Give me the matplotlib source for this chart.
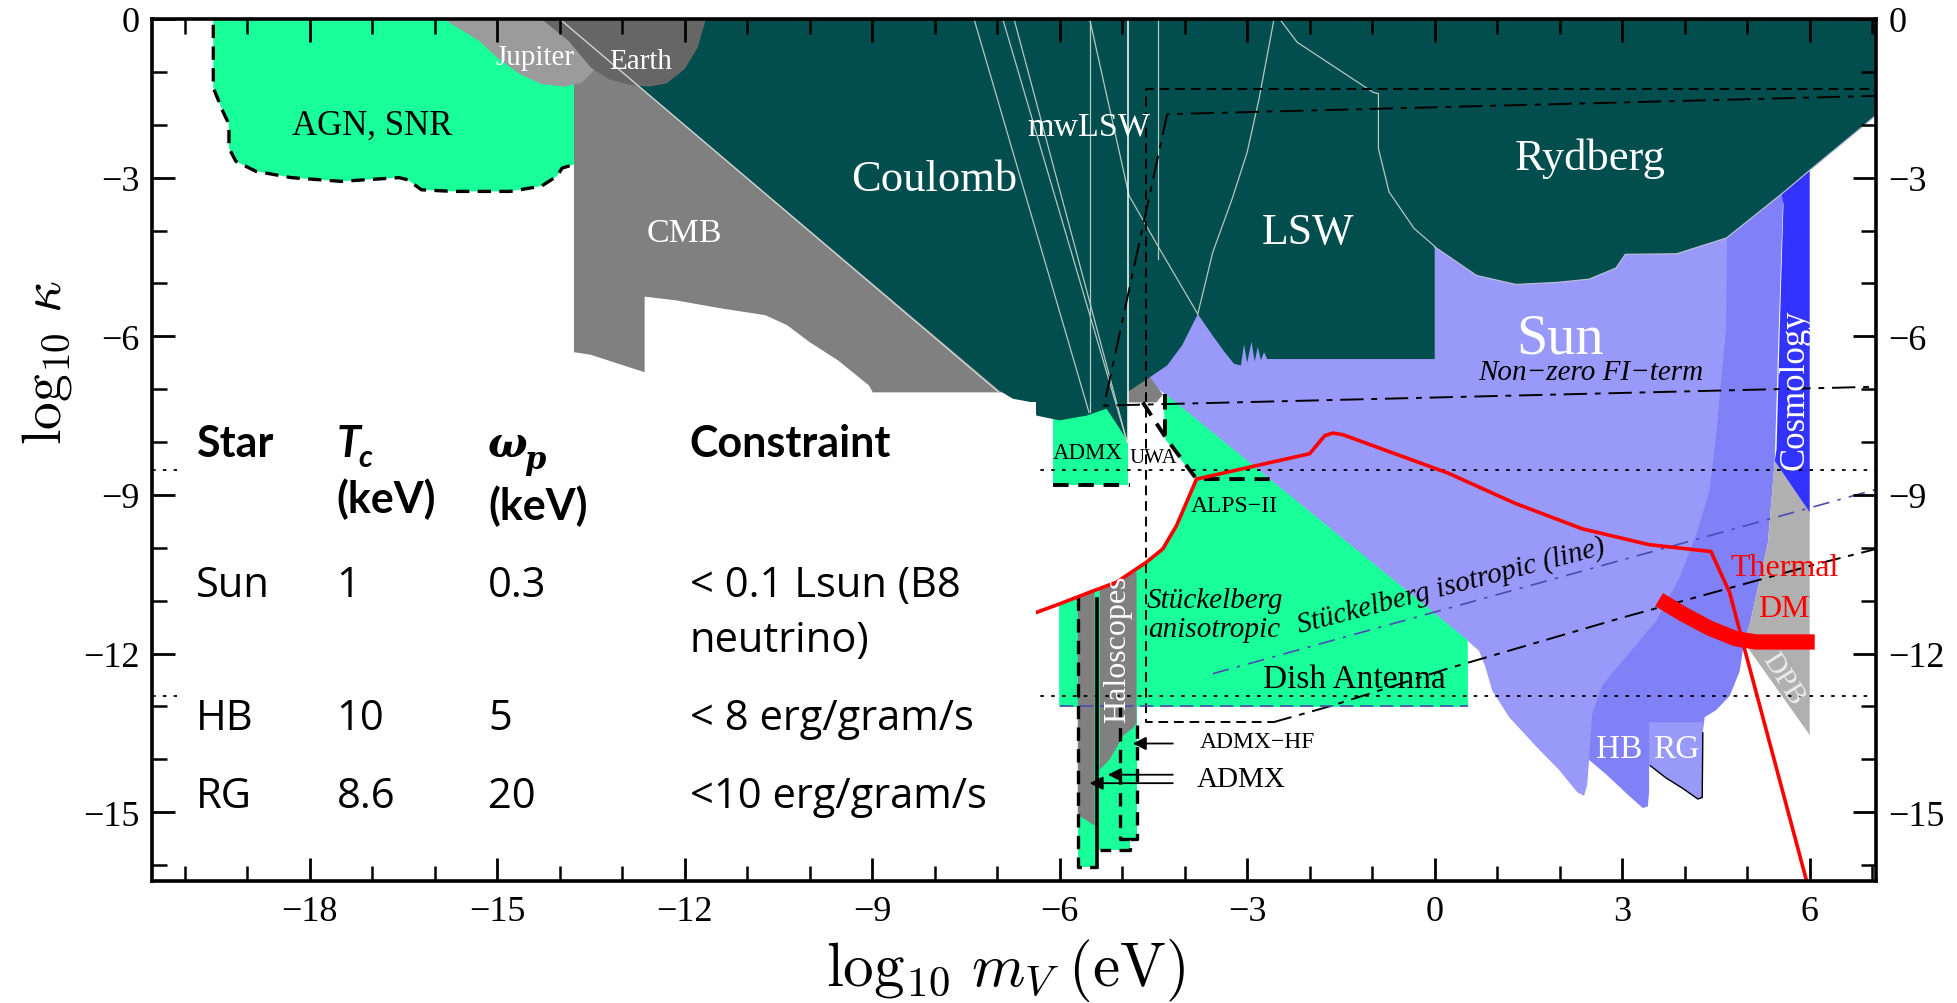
import matplotlib
matplotlib.use("Agg")
import matplotlib.pyplot as plt
from matplotlib.patches import Polygon, Rectangle

plt.rcParams['font.family'] = ['Liberation Serif', 'DejaVu Serif']
plt.rcParams['mathtext.fontset'] = 'cm'
plt.rcParams['axes.unicode_minus'] = True

# ---------------------------------------------------------------------------
# Excluded regions: vertices (log10 m_V [eV], log10 kappa)
# ---------------------------------------------------------------------------
agn_snr = [(-19.54, 0.3), (-19.54, -1.3), (-19.39, -1.74), (-19.29, -1.99), (-19.29, -2.44),
           (-19.18, -2.69), (-18.86, -2.88), (-18.29, -3.0), (-17.5, -3.07), (-16.57, -3.0),
           (-16.43, -3.04), (-16.21, -3.23), (-15.71, -3.26), (-14.79, -3.26), (-14.29, -3.16),
           (-14.04, -2.97), (-13.96, -2.82), (-13.77, -2.75), (-13.77, 0.3)]

cmb = [(-13.77, -0.3), (-13.77, -6.3), (-13.5, -6.35), (-12.64, -6.68), (-12.64, -5.25),
       (-12.14, -5.32), (-11.43, -5.47), (-10.71, -5.6), (-10.36, -5.79), (-10.0, -6.11),
       (-9.54, -6.46), (-9.05, -6.93), (-8.99, -7.06), (-6.9, -7.06), (-12.5, -0.3)]

jupiter = [(-15.86, 0.2), (-15.86, 0.0), (-15.29, -0.41), (-15.0, -0.73), (-14.64, -1.04),
           (-14.29, -1.23), (-13.93, -1.28), (-13.64, -1.2), (-13.43, -0.95), (-13.3, 0.2)]

earth = [(-14.29, 0.2), (-14.29, 0.0), (-13.86, -0.41), (-13.5, -0.92), (-13.21, -1.14),
         (-12.86, -1.25), (-12.57, -1.28), (-12.29, -1.22), (-12.0, -0.95), (-11.79, -0.54),
         (-11.66, 0.0), (-11.66, 0.2)]

# Coulomb / mwLSW / LSW / Rydberg (one shaded envelope)
lab_bounds = [(-14.2, 0.2), (7.5, 0.2), (7.5, -1.38), (6.8, -2.08), (6.0, -2.86), (5.6, -3.26),
              (4.67, -4.14), (3.87, -4.44), (3.05, -4.45), (2.9, -4.71), (2.47, -4.92),
              (1.97, -4.98), (1.3, -5.02), (0.67, -4.85), (0.2, -4.47), (0.0, -4.31),
              (0.0, -6.43), (-2.57, -6.43), (-2.68, -6.43), (-2.73, -6.3), (-2.78, -6.45),
              (-2.83, -6.2), (-2.88, -6.48), (-2.93, -6.1), (-3.0, -6.5), (-3.05, -6.15),
              (-3.1, -6.55), (-3.21, -6.52), (-3.36, -6.3), (-3.55, -5.99), (-3.79, -5.58),
              (-4.04, -6.17), (-4.28, -6.55), (-4.59, -6.8), (-4.91, -7.05), (-4.91, -7.98),
              (-5.25, -7.37), (-5.57, -7.5), (-6.0, -7.59), (-6.37, -7.5), (-6.43, -7.25),
              (-6.75, -7.18), (-6.96, -7.03)]

sun = [(-4.6, -6.82), (0.52, -11.75), (0.71, -11.95), (0.81, -12.25), (0.92, -12.7),
       (1.19, -13.2), (1.61, -13.74), (1.99, -14.2), (2.28, -14.62), (2.39, -14.69),
       (2.44, -14.48), (2.47, -14.01), (2.6, -13.6), (3.6, -12.0), (4.5, -10.0),
       (5.0, -7.0), (5.0, -3.5), (-3.8, -3.5), (-4.6, -6.5)]

hb = [(2.47, -14.01), (2.74, -14.28), (3.11, -14.69), (3.33, -14.92), (3.41, -14.89),
      (3.43, -14.62), (3.43, -14.11), (3.7, -14.35), (3.97, -14.55), (4.21, -14.75),
      (4.28, -14.72), (4.29, -13.47), (4.32, -13.2), (4.5, -13.07), (4.72, -12.8),
      (4.88, -12.33), (4.95, -11.79), (5.04, -11.45), (5.14, -10.92), (5.33, -9.91),
      (5.44, -8.36), (5.5, -6.0), (5.58, -3.2), (4.68, -4.0), (4.66, -5.87), (4.5, -7.89),
      (4.4, -8.9), (4.18, -9.77), (3.91, -10.58), (3.54, -11.39), (3.06, -12.06),
      (2.68, -12.6), (2.52, -13.14)]

rg = [(3.43, -13.3), (4.29, -13.3), (4.29, -14.72), (4.21, -14.75), (3.97, -14.55),
      (3.7, -14.35), (3.43, -14.11)]
rg_edge = [(3.45, -14.12), (3.7, -14.35), (3.97, -14.55), (4.21, -14.75), (4.28, -14.72),
           (4.29, -13.5)]

dpb = [(5.44, -8.36), (6.0, -9.33), (6.0, -13.54), (4.95, -11.79), (5.04, -11.45),
       (5.14, -10.92), (5.33, -9.91)]

cosmology = [(5.5, -3.0), (6.0, -2.5), (6.0, -9.33), (5.44, -8.36), (5.47, -8.13),
             (5.52, -5.87), (5.58, -3.5)]

admx_top = [(-6.11, -7.3), (-4.91, -7.3), (-4.91, -8.82), (-6.11, -8.82)]

stueck_aniso = [(-4.33, -7.08), (0.52, -11.75), (0.53, -13.0), (-6.0, -13.0), (-6.0, -11.06),
                (-5.52, -10.84), (-5.09, -10.65), (-4.61, -10.27), (-4.35, -10.02),
                (-4.13, -9.58), (-3.97, -9.14), (-3.81, -8.7), (-4.3, -7.95), (-4.33, -7.2)]

haloscope_green = [(-5.71, -12.9), (-5.71, -16.03), (-5.41, -16.03), (-5.41, -15.72),
                   (-4.88, -15.72), (-4.88, -15.5), (-4.77, -15.5), (-4.77, -12.9)]
haloscope_gray1 = [(-5.71, -10.93), (-5.44, -10.8), (-5.44, -15.25), (-5.71, -15.05)]
haloscope_gray2 = [(-5.36, -10.78), (-4.77, -10.45), (-4.77, -13.3), (-4.82, -13.4),
                   (-4.98, -13.55), (-5.1, -13.8), (-5.2, -14.0), (-5.36, -14.2)]

gray_wedge = [(-4.91, -6.95), (-4.6, -6.7), (-4.35, -7.1), (-4.45, -7.25), (-4.91, -7.25)]

# ---------------------------------------------------------------------------
# Curves
# ---------------------------------------------------------------------------
coulomb_edge = [(-14.0, 0.0), (-6.97, -7.06)]
thin_lines = [
    [(-7.37, 0.0), (-5.53, -7.44)],
    [(-6.91, 0.0), (-4.92, -8.0)],
    [(-6.73, 0.0), (-4.92, -8.0)],
    [(-5.52, 0.0), (-5.52, -7.44)],
    [(-4.42, 0.0), (-4.42, -4.54)],
    [(-5.52, 0.0), (-4.89, -3.34), (-4.4, -4.35), (-3.79, -5.58)],
    [(-2.57, 0.0), (-2.81, -1.51), (-3.0, -2.52), (-3.24, -3.4), (-3.55, -4.41), (-3.79, -5.58)],
    [(-2.48, 0.0), (-2.2, -0.44), (-0.98, -1.39), (-0.9, -1.41), (-0.9, -2.45), (-0.73, -3.27),
     (-0.33, -3.96), (0.01, -4.31)],
]
white_line = [(-4.9, 0.0), (-4.9, -8.0)]
rydberg_edge = [(0.0, -4.31), (0.2, -4.47), (0.67, -4.85), (1.3, -5.02), (1.97, -4.98),
                (2.47, -4.92), (2.9, -4.71), (3.05, -4.45), (3.87, -4.44), (4.67, -4.14),
                (5.6, -3.26), (6.0, -2.86), (6.8, -2.08), (7.5, -1.38)]

red_limit = [(-6.37, -11.22), (-6.0, -11.06), (-5.52, -10.84), (-5.09, -10.65), (-4.61, -10.27),
             (-4.35, -10.02), (-4.13, -9.58), (-3.97, -9.14), (-3.81, -8.7), (-2.0, -8.22),
             (-1.76, -7.88), (-1.63, -7.83), (-1.47, -7.86), (0.22, -8.59), (1.29, -9.16),
             (2.36, -9.64), (3.43, -9.94), (4.42, -10.07), (4.72, -10.85), (4.93, -11.79),
             (5.95, -16.3)]
thermal_dm = [(3.59, -10.98), (3.97, -11.25), (4.4, -11.52), (4.82, -11.72), (5.14, -11.78),
              (6.08, -11.78)]

agn_dash = agn_snr[:-1]
admx_dash = [(-6.11, -8.82), (-4.88, -8.82)]
uwa_dash = [(-4.67, -7.25), (-4.29, -7.94), (-3.81, -8.7), (-2.64, -8.7)]
uwa_vert = [(-4.31, -7.1), (-4.31, -7.97)]
proj_dash = [(7.2, -1.32), (-4.62, -1.32), (-4.62, -13.3), (-2.59, -13.3)]
dish_line = [(-2.59, -13.3), (-1.63, -12.98), (0.19, -12.29), (3.0, -11.32), (6.1, -10.31),
             (7.2, -9.98)]
fi_term = [(7.2, -1.45), (-4.28, -1.8), (-5.29, -7.31), (7.2, -6.95)]
iso_line = [(-3.55, -12.38), (7.2, -8.85)]
iso_floor = [(-6.0, -13.0), (0.53, -13.0)]
dotted_levels = [-8.53, -12.8]

halo_dash1 = [(-5.71, -10.93), (-5.71, -16.03), (-5.41, -16.03)]
halo_dash2 = [(-5.04, -13.0), (-5.04, -15.5), (-4.88, -15.5), (-4.88, -15.72), (-5.36, -15.72)]
halo_dash3 = [(-4.77, -13.35), (-4.77, -15.5), (-4.88, -15.5)]
halo_solid = [(-5.41, -10.96), (-5.41, -16.03)]

# arrows: (tail m, tip m, kappa)
arrows = [(-4.19, -4.83, -13.7), (-4.19, -5.23, -14.29), (-4.19, -5.52, -14.45)]

# stellar constraint table
table_cols = [-19.82, -17.57, -15.14, -11.92]
table_rows = [
    ("Sun", "1", "0.3", "< 0.1 Lsun (B8"),
    ("HB", "10", "5", "< 8 erg/gram/s"),
    ("RG", "8.6", "20", "<10 erg/gram/s"),
]
table_row_k = [-10.91, -13.42, -14.9]

# ---------------------------------------------------------------------------
GREEN = '#19ff99'
TEAL = '#024d4d'
SUN = '#9999fa'
HB = '#8080f7'
COSMO = '#3333ff'
DPB = '#b0b0b0'
CMB = '#808080'
JUP = '#9b9b9b'
EARTH = '#666666'

fig = plt.figure(figsize=(19.57, 10.04), dpi=100)
ax = fig.add_axes([0.0777, 0.1215, 0.8809, 0.8586])
ax.set_xlim(-20.52, 7.06)
ax.set_ylim(-16.3, 0)


def fill(verts, color, z, **kw):
    ax.add_patch(Polygon(verts, closed=True, facecolor=color,
                         edgecolor=kw.pop('edgecolor', 'none'), zorder=z, **kw))


def draw(verts, **kw):
    xs, ys = zip(*verts)
    ax.plot(xs, ys, **kw)


fill(agn_snr, GREEN, 1.0)
fill(cmb, CMB, 1.01)
fill(sun, SUN, 1.02)
fill(hb, HB, 1.03)
fill(rg, SUN, 1.04)
fill(dpb, DPB, 1.05)
fill(cosmology, COSMO, 1.06)
fill(admx_top, GREEN, 1.07)
fill(stueck_aniso, GREEN, 1.08, edgecolor=GREEN, linewidth=0.6)
fill(haloscope_green, GREEN, 1.09)
fill(haloscope_gray1, CMB, 1.1)
fill(haloscope_gray2, CMB, 1.11)
fill(gray_wedge, CMB, 1.12)
fill(lab_bounds, TEAL, 1.13)
fill(jupiter, JUP, 1.14)
fill(earth, EARTH, 1.15)

# thin boundaries
draw(coulomb_edge, color='#cfd4d4', lw=1.0, zorder=2)
for seg in thin_lines:
    draw(seg, color='#b4c6c6', lw=0.9, zorder=2)
draw(white_line, color='white', lw=1.1, zorder=2)
draw(rydberg_edge, color='#b9bdd6', lw=0.9, zorder=2)
draw(rg_edge, color='black', lw=1.0, zorder=2)

# dashed / dotted limits
for lev in dotted_levels:
    ax.axhline(lev, color='black', lw=1.3, dashes=(2, 4), zorder=2.1)
draw(agn_dash, color='black', lw=2.4, dashes=(4, 2.5), zorder=2.2)
draw(admx_dash, color='black', lw=2.8, dashes=(4, 2.5), zorder=2.2)
draw(uwa_dash, color='black', lw=2.8, dashes=(4, 2.5), zorder=2.2)
draw(uwa_vert, color='black', lw=2.8, dashes=(4, 2.5), zorder=2.2)
draw(proj_dash, color='black', lw=1.4, dashes=(5, 3), zorder=2.2)
draw(dish_line, color='black', lw=1.4, dashes=(10, 4, 3, 4), zorder=2.2)
draw(fi_term, color='black', lw=1.4, dashes=(12, 4, 3, 4), zorder=2.2)
draw(iso_line, color='#4b4bb0', lw=1.2, dashes=(10, 5, 2, 5), zorder=2.2)
draw(iso_floor, color='#4b4bb0', lw=1.2, dashes=(8, 4), zorder=2.2)
draw(halo_dash1, color='black', lw=2.4, dashes=(4, 2.5), zorder=2.2)
draw(halo_dash2, color='black', lw=2.4, dashes=(4, 2.5), zorder=2.2)
draw(halo_dash3, color='black', lw=2.4, dashes=(4, 2.5), zorder=2.2)
draw(halo_solid, color='black', lw=2.6, zorder=2.2)

draw(red_limit, color='#ff0000', lw=2.6, zorder=2.5)
draw(thermal_dm, color='#ff0000', lw=11, solid_capstyle='butt', zorder=2.5)

for tail, tip, kk in arrows:
    ax.annotate('', xy=(tip, kk), xytext=(tail, kk),
                arrowprops=dict(arrowstyle='-|>', color='black', lw=1.3,
                                mutation_scale=20, shrinkA=0, shrinkB=0), zorder=3)


# region labels
def label(s, m, k, size, color='black', **kw):
    kw.setdefault('ha', 'center')
    kw.setdefault('va', 'baseline')
    ax.text(m, k, s, fontsize=size, color=color, zorder=4, **kw)


label('AGN, SNR', -17.0, -2.17, 25)
label('Jupiter', -14.39, -0.85, 21, 'white')
label('Earth', -12.71, -0.92, 21, 'white')
label('CMB', -12.0, -4.2, 24.5, 'white')
label('Coulomb', -8.01, -3.23, 32, 'white')
label('mwLSW', -5.53, -2.19, 24.5, 'white')
label('LSW', -2.02, -4.23, 31.5, 'white')
label('Rydberg', 2.49, -2.83, 32, 'white')
label('Sun', 2.0, -6.3, 40.5, 'white')
label('Non\u2212zero FI\u2212term', 2.5, -6.8, 21, style='italic')
label('Cosmology', 5.76, -6.99, 25, 'white', rotation=90, va='center')
label('ADMX', -5.55, -8.19, 16.5, va='center')
label('UWA', -4.5, -8.3, 15, va='center')
label('ALPS\u2212II', -3.2, -9.2, 17, va='center')
label('Haloscopes', -5.07, -11.9, 23, 'white', rotation=90, va='center')
label('St\u00fcckelberg', -4.61, -11.12, 21, style='italic', ha='left')
label('anisotropic', -4.58, -11.66, 21, style='italic', ha='left')
label('St\u00fcckelberg isotropic (line)', -2.16, -11.59, 21, style='italic', ha='left',
      rotation=14.5, rotation_mode='anchor')
label('Dish Antenna', -2.75, -12.63, 24, ha='left')
label('ADMX\u2212HF', -3.76, -13.67, 17, ha='left', va='center')
label('ADMX', -3.81, -14.37, 21, ha='left', va='center')
label('HB', 2.95, -13.95, 24, 'white')
label('RG', 3.87, -13.95, 24, 'white')
label('Thermal', 5.6, -10.51, 23, '#ff0000')
label('DM', 5.58, -11.29, 23, '#ff0000')
label('DPB', 5.57, -12.46, 21, '#ececec', rotation=-58, va='center')

# stellar constraint table
ax.add_patch(Rectangle((-20.12, -16.3), 13.74, 9.05, facecolor='white', edgecolor='none',
                       zorder=5))
HEAD = ['Lato', 'DejaVu Sans']
BODY = ['Open Sans', 'DejaVu Sans']


def cell(s, m, k, size=30, family=BODY, **kw):
    ax.text(m, k, s, fontsize=size, family=family, ha='left', va='baseline', zorder=6, **kw)


cell('Star', table_cols[0], -8.26, size=31, family=HEAD, weight='bold')
cell('T', table_cols[1], -8.26, size=31, family=HEAD, weight='bold', style='italic')
ax.annotate('c', xy=(table_cols[1], -8.26), xytext=(16, -7), textcoords='offset points',
            fontsize=22, family=HEAD, weight='bold', style='italic', ha='left',
            va='baseline', zorder=6)
cell('(keV)', table_cols[1], -9.32, size=31, family=HEAD, weight='bold')
cell('\u03c9', table_cols[2], -8.26, size=30, family='DejaVu Serif', weight='bold',
     style='italic')
ax.annotate('p', xy=(table_cols[2], -8.26), xytext=(26, -9), textcoords='offset points',
            fontsize=22, family='DejaVu Serif', weight='bold', style='italic', ha='left',
            va='baseline', zorder=6)
cell('(keV)', table_cols[2], -9.45, size=31, family=HEAD, weight='bold')
cell('Constraint', table_cols[3], -8.26, size=31, family=HEAD, weight='bold')
for row, kk in zip(table_rows, table_row_k):
    for s, m in zip(row, table_cols):
        cell(s, m, kk)
cell('neutrino)', table_cols[3], -11.95)

# axes styling
ax.set_xticks(range(-18, 7, 3))
ax.set_xticks(range(-20, 8), minor=True)
ax.set_yticks(range(-15, 1, 3))
ax.set_yticks(range(-16, 1), minor=True)
ax.tick_params(which='both', direction='in', top=True, right=True, labelright=True,
               labelsize=26, colors='black')
ax.tick_params(which='major', length=16.5, width=2.0)
ax.tick_params(which='minor', length=10.5, width=1.8)
ax.tick_params(axis='x', pad=10)
ax.tick_params(axis='y', pad=9)
for sp in ax.spines.values():
    sp.set_linewidth(2.6)
    sp.set_zorder(8)
ax.xaxis.set_zorder(8)
ax.yaxis.set_zorder(8)

ax.text(0.495, -0.103, r'$\log_{10}\,m_V\;(\mathrm{eV})$', transform=ax.transAxes,
        fontsize=44, ha='center', va='center')
ax.text(-0.061, 0.603, r'$\log_{10}\,\kappa$', transform=ax.transAxes, fontsize=40,
        ha='center', va='center', rotation=90)

fig.savefig('out.png', dpi=100)
